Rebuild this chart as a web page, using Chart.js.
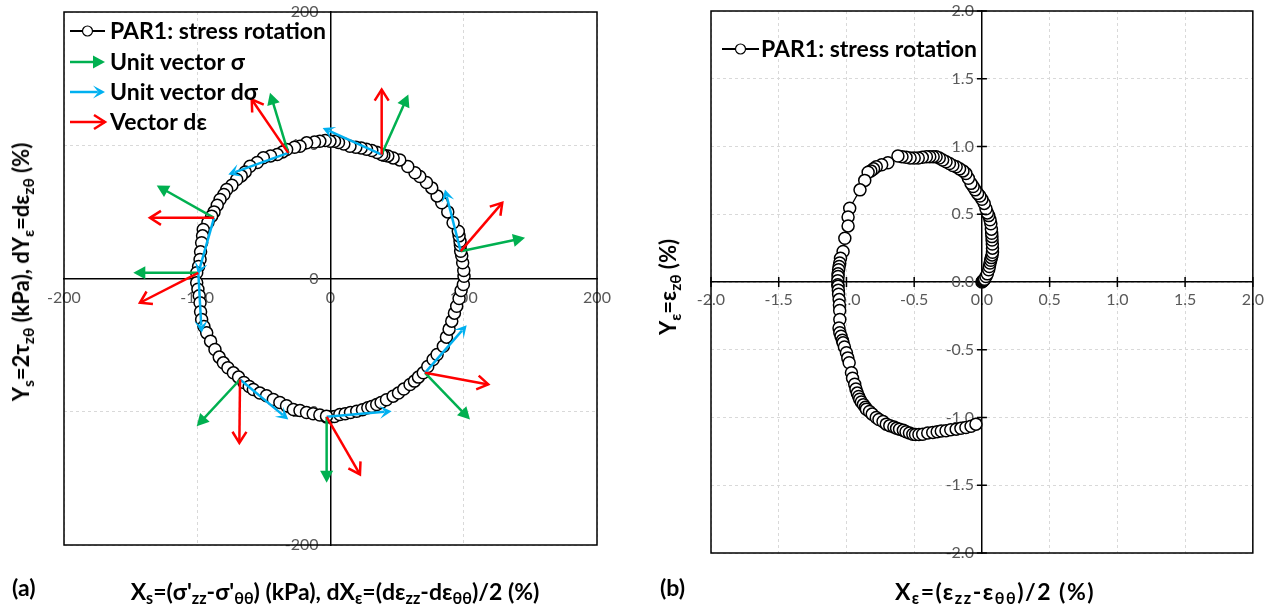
<!DOCTYPE html>
<html>
<head>
<meta charset="utf-8">
<script src="https://cdn.jsdelivr.net/npm/chart.js@4.4.1/dist/chart.umd.min.js"></script>
<style>
  body { margin: 0; background: #fff; width: 1272px; height: 611px; position: relative; overflow: hidden; font-family: Lato, "Noto Sans", sans-serif; }
  canvas { position: absolute; top: 0; }
  .title { position: absolute; font-weight: bold; font-size: 23px; color: #000; white-space: nowrap; line-height: 1; }
  .title sub { font-size: 0.7em; vertical-align: -0.3em; line-height: 0; }
  .rot { transform: translate(-50%, -50%) rotate(-90deg); font-size: 22px; }
  .hcenter { transform: translate(-50%, -50%); }
</style>
</head>
<body>
<canvas id="chartA" width="640" height="611" style="left:0"></canvas>
<canvas id="chartB" width="632" height="611" style="left:640px"></canvas>

<div class="title" style="left:12px; top:576px">(a)</div>
<div class="title hcenter" style="left:335px; top:591px">X<sub>s</sub>=(σ'<sub>zz</sub>-σ'<sub>θθ</sub>) (kPa), dX<sub>ε</sub>=(dε<sub>zz</sub>-dε<sub>θθ</sub>)/2 (%)</div>
<div class="title rot" style="left:21px; top:272px">Y<sub>s</sub>=2τ<sub>zθ</sub> (kPa), dY<sub>ε</sub>=dε<sub>zθ</sub> (%)</div>

<div class="title" style="left:660px; top:576px">(b)</div>
<div class="title hcenter" style="left:995px; top:591px; letter-spacing:1.5px">X<sub>ε</sub>=(ε<sub>zz</sub>-ε<sub>θθ</sub>)/2 (%)</div>
<div class="title rot" style="left:668px; top:287px">Y<sub>ε</sub>=ε<sub>zθ</sub> (%)</div>

<script>
// ---- panel (a): stress path, kPa ----
const stressX = [-3, 0, 3, 7, 11, 15, 19.7, 24, 28, 31, 34.7, 38, 42, 47, 51, 55, 59.7, 63, 66, 69.6,
  73, 77, 80, 84.7, 87, 89, 91, 93, 94.7, 96.5, 98, 99.7, 100.2, 100, 99.2, 98.5, 97.7, 97.5, 97.2, 96.5,
  95.9, 92, 88, 83.5, 80, 76, 72, 67, 63.4, 58, 52, 47, 43, 40, 38.4, 35, 31, 27, 23, 19,
  14.6, 10, 6, 3, -0.4, -4, -8, -12, -17.9, -22.9, -27, -32.9, -36, -40, -45, -50.4, -55, -60.4, -64, -67,
  -70.4, -74, -77.9, -80, -82.9, -85, -87.4, -89.2, -92, -95.5, -96, -96.7, -97.5, -97.9, -99, -100.4, -100.4, -99.5, -98.5, -97.9,
  -97.5, -96.7, -95, -92.9, -90, -86.7, -83.5, -80.4, -77, -72.9, -69, -65, -61, -57.9, -53, -48, -42.9, -38, -33, -27.9,
  -22.9, -18, -13, -8, -3];
const stressY = [-104, -104, -103.5, -102, -101.5, -100.5, -99.6, -98.5, -97, -96, -94.6, -93, -91, -88.3, -86, -83, -79.5, -77, -74, -70.8,
  -66, -60.8, -57, -50.8, -44, -38, -32, -26, -20.8, -15, -9, -4.5, 1.7, 6, 11.8, 17, 20.5, 25, 28, 32,
  35.5, 41.8, 50, 56.8, 62, 68, 72, 76.5, 79.3, 84, 89, 90.5, 92, 92.5, 93, 94.5, 96, 97, 98, 98.5,
  99.3, 101, 102, 103, 103, 103.5, 103, 102.5, 101.8, 99.3, 98.5, 96.8, 95, 93, 92, 90.6, 87, 84.3, 80, 77,
  74.3, 70, 66.8, 63, 59.3, 55, 50, 46.8, 42, 36.8, 32, 26.8, 20, 14.3, 9, 4.3, -3.2, -8, -13, -18.2,
  -25, -30.8, -36, -40.8, -47, -53.3, -59, -63.3, -67, -70.8, -74, -78, -81, -83.3, -86, -88, -90.8, -93, -95.5, -98.3,
  -99, -100.5, -101.5, -102.5, -103.3];

// arrow bases (on the stress path) and tips, kPa
const arrowBaseX = [38.4, 97.7, 70.9, -2.9, -67.9, -99.2, -87.4, -31.7];
const arrowBaseY = [93, 20.5, -70.8, -103.8, -75.8, 4.3, 45.5, 94.3];
const sigmaTipX = [58.4, 146, 104.7, -2.9, -100.4, -148, -130.4, -45.4];
const sigmaTipY = [138, 30.5, -105.8, -153.3, -110.8, 4.3, 69.8, 139.4];
const dSigmaTipX = [-5.9, 85.9, 102.2, 45.9, -31.7, -96.7, -99.5, -76.7];
const dSigmaTipY = [113, 66.8, -35, -99.6, -105.8, -40.8, 3, 78];
const dEpsTipX = [38.4, 128.9, 118.4, 22.1, -68.4, -143, -135.5, -59.1];
const dEpsTipY = [141.8, 56.8, -79.5, -147, -123.3, -18.2, 45.5, 134.3];

const ticksA = [-200, -100, 0, 100, 200];

// ---- panel (b): strain path, % ----
const strainX = [0, 0.005, 0.01, 0.015, 0.02, 0.03, 0.04, 0.05, 0.055, 0.06, 0.065, 0.07, 0.075, 0.078, 0.078, 0.077, 0.075, 0.074, 0.072, 0.07,
  0.066, 0.06, 0.05, 0.04, 0.03, 0.017, 0, -0.015, -0.032, -0.05, -0.065, -0.081, -0.1, -0.118, -0.14, -0.165, -0.19, -0.215, -0.24, -0.265,
  -0.29, -0.315, -0.338, -0.36, -0.385, -0.41, -0.44, -0.47, -0.5, -0.53, -0.56, -0.59, -0.62, -0.694, -0.74, -0.78, -0.8, -0.82, -0.84, -0.865,
  -0.9, -0.976, -0.988, -0.988, -1.012, -1.025, -1.044, -1.05, -1.054, -1.058, -1.062, -1.062, -1.064, -1.064, -1.062, -1.06, -1.058, -1.054, -1.052, -1.05,
  -1.049, -1.055, -1.049, -1.04, -1.03, -1.025, -1.015, -1, -0.99, -0.98, -0.963, -0.955, -0.939, -0.93, -0.92, -0.91, -0.902, -0.89, -0.875, -0.86,
  -0.853, -0.83, -0.81, -0.78, -0.76, -0.73, -0.706, -0.68, -0.65, -0.63, -0.608, -0.58, -0.56, -0.535, -0.51, -0.49, -0.465, -0.437, -0.4, -0.363,
  -0.33, -0.3, -0.265, -0.23, -0.19, -0.155, -0.118, -0.08, -0.044];
const strainY = [0, 0.005, 0.01, 0.015, 0.02, 0.04, 0.06, 0.09, 0.115, 0.14, 0.16, 0.18, 0.2, 0.22, 0.25, 0.28, 0.31, 0.335, 0.36, 0.39,
  0.43, 0.46, 0.49, 0.51, 0.54, 0.58, 0.61, 0.635, 0.654, 0.68, 0.705, 0.728, 0.765, 0.8, 0.82, 0.835, 0.85, 0.86, 0.875, 0.887,
  0.9, 0.915, 0.924, 0.925, 0.925, 0.924, 0.92, 0.915, 0.915, 0.915, 0.92, 0.925, 0.93, 0.88, 0.865, 0.85, 0.835, 0.82, 0.81, 0.75,
  0.68, 0.544, 0.48, 0.414, 0.323, 0.225, 0.176, 0.14, 0.115, 0.09, 0.06, 0.041, 0.01, -0.02, -0.032, -0.06, -0.09, -0.13, -0.17, -0.21,
  -0.277, -0.34, -0.375, -0.4, -0.43, -0.449, -0.48, -0.522, -0.56, -0.596, -0.669, -0.71, -0.755, -0.79, -0.82, -0.845, -0.865, -0.885, -0.905, -0.925,
  -0.939, -0.955, -0.975, -1, -1.015, -1.03, -1.049, -1.06, -1.07, -1.08, -1.086, -1.095, -1.105, -1.115, -1.123, -1.125, -1.125, -1.123, -1.115, -1.11,
  -1.105, -1.1, -1.098, -1.09, -1.086, -1.08, -1.074, -1.065, -1.049];

const ticksB = [-2, -1.5, -1, -0.5, 0, 0.5, 1, 1.5, 2];

const GREEN = '#00b050', BLUE = '#00b0f0', RED = '#ff0000';
const tickFont = { family: 'Lato', size: 16 };
const legendFont = 'bold 23px Lato';

function toPoints(xs, ys) {
  return xs.map((x, i) => ({ x: x, y: ys[i] }));
}

// arrow with head style: 'tri' filled triangle, 'stealth' notched, 'open' V
function drawArrow(ctx, x0, y0, x1, y1, color, head) {
  const ang = Math.atan2(y1 - y0, x1 - x0);
  const ux = Math.cos(ang), uy = Math.sin(ang);
  const px = -uy, py = ux;
  const L = head === 'open' ? 11 : 12, W = head === 'open' ? 7 : 6.5;
  ctx.save();
  ctx.strokeStyle = color;
  ctx.fillStyle = color;
  ctx.lineWidth = 2.5;
  ctx.lineJoin = 'miter';
  const shaftEnd = head === 'open' ? 0 : L * 0.6;
  ctx.beginPath();
  ctx.moveTo(x0, y0);
  ctx.lineTo(x1 - ux * shaftEnd, y1 - uy * shaftEnd);
  ctx.stroke();
  const bx = x1 - ux * L, by = y1 - uy * L;
  ctx.beginPath();
  if (head === 'open') {
    ctx.moveTo(bx + px * W, by + py * W);
    ctx.lineTo(x1, y1);
    ctx.lineTo(bx - px * W, by - py * W);
    ctx.stroke();
  } else {
    ctx.moveTo(x1, y1);
    ctx.lineTo(bx + px * W, by + py * W);
    if (head === 'stealth') ctx.lineTo(x1 - ux * L * 0.55, y1 - uy * L * 0.55);
    ctx.lineTo(bx - px * W, by - py * W);
    ctx.closePath();
    ctx.fill();
  }
  ctx.restore();
}

function drawMarkerSymbol(ctx, x0, x1, y) {
  ctx.save();
  ctx.strokeStyle = '#000';
  ctx.lineWidth = 2;
  ctx.beginPath();
  ctx.moveTo(x0, y);
  ctx.lineTo(x1, y);
  ctx.stroke();
  ctx.beginPath();
  ctx.arc((x0 + x1) / 2, y, 5, 0, Math.PI * 2);
  ctx.fillStyle = '#fff';
  ctx.fill();
  ctx.lineWidth = 1.2;
  ctx.stroke();
  ctx.restore();
}

const framePlugin = {
  id: 'frame',
  afterDraw(chart) {
    const a = chart.chartArea, ctx = chart.ctx;
    ctx.save();
    ctx.strokeStyle = '#000';
    ctx.lineWidth = 1.5;
    ctx.strokeRect(a.left, a.top, a.right - a.left, a.bottom - a.top);
    ctx.restore();
  }
};

const arrowPlugin = {
  id: 'arrows',
  afterDatasetsDraw(chart) {
    const ctx = chart.ctx, sx = chart.scales.x, sy = chart.scales.y;
    const sets = [
      [sigmaTipX, sigmaTipY, GREEN, 'tri'],
      [dSigmaTipX, dSigmaTipY, BLUE, 'stealth'],
      [dEpsTipX, dEpsTipY, RED, 'open']
    ];
    sets.forEach(([tx, ty, color, head]) => {
      arrowBaseX.forEach((bx, i) => {
        drawArrow(ctx,
          sx.getPixelForValue(bx), sy.getPixelForValue(arrowBaseY[i]),
          sx.getPixelForValue(tx[i]), sy.getPixelForValue(ty[i]), color, head);
      });
    });
  }
};

const legendPluginA = {
  id: 'legendA',
  afterDraw(chart) {
    const ctx = chart.ctx, a = chart.chartArea;
    const x0 = a.left + 6, x1 = a.left + 41, tx = a.left + 46;
    const rows = [a.top + 19, a.top + 50, a.top + 80, a.top + 110];
    drawMarkerSymbol(ctx, x0, x1, rows[0]);
    drawArrow(ctx, x0, rows[1], x1, rows[1], GREEN, 'tri');
    drawArrow(ctx, x0, rows[2], x1, rows[2], BLUE, 'stealth');
    drawArrow(ctx, x0, rows[3], x1, rows[3], RED, 'open');
    ctx.save();
    ctx.font = legendFont;
    ctx.fillStyle = '#000';
    ctx.textBaseline = 'middle';
    ['PAR1: stress rotation', 'Unit vector σ', 'Unit vector dσ', 'Vector dε'].forEach((t, i) => {
      ctx.fillText(t, tx, rows[i] + 1);
    });
    ctx.restore();
  }
};

const legendPluginB = {
  id: 'legendB',
  afterDraw(chart) {
    const ctx = chart.ctx, a = chart.chartArea;
    const y = a.top + 38;
    drawMarkerSymbol(ctx, a.left + 11, a.left + 48, y);
    ctx.save();
    ctx.font = legendFont;
    ctx.fillStyle = '#000';
    ctx.textBaseline = 'middle';
    ctx.fillText('PAR1: stress rotation', a.left + 50, y + 1);
    ctx.restore();
  }
};

// short tick marks crossing the axes of panel (b)
const crossTickPlugin = {
  id: 'crossTicks',
  afterDraw(chart) {
    const ctx = chart.ctx, sx = chart.scales.x, sy = chart.scales.y;
    const x0 = sx.getPixelForValue(0), y0 = sy.getPixelForValue(0);
    ctx.save();
    ctx.strokeStyle = '#000';
    ctx.lineWidth = 1.5;
    ctx.beginPath();
    ticksB.forEach(v => {
      if (v === 0) return;
      const px = sx.getPixelForValue(v), py = sy.getPixelForValue(v);
      ctx.moveTo(px, y0 - 5); ctx.lineTo(px, y0 + 5);
      ctx.moveTo(x0 - 5, py); ctx.lineTo(x0 + 5, py);
    });
    ctx.stroke();
    ctx.restore();
  }
};

function axisOpts(min, max, ticks, cross, fmt, pad) {
  return {
    type: 'linear', min: min, max: max, position: cross,
    afterBuildTicks: s => { s.ticks = ticks.map(v => ({ value: v })); },
    grid: { color: '#d9d9d9', lineWidth: 1, drawTicks: false },
    border: { color: '#000', width: 1.5, dash: [3, 3] },
    ticks: { autoSkip: false, maxRotation: 0, padding: pad, color: '#595959', font: tickFont, callback: fmt }
  };
}

const pointStyle = {
  showLine: true, borderColor: '#000', borderWidth: 1.25,
  pointRadius: 6, pointHoverRadius: 6, pointBackgroundColor: '#fff', pointBorderColor: '#000', pointBorderWidth: 1.5
};

// y labels sit left of the centred axis; trailing spaces give the gap
new Chart(document.getElementById('chartA'), {
  type: 'scatter',
  data: { datasets: [Object.assign({ label: 'PAR1: stress rotation', data: toPoints(stressX, stressY) }, pointStyle)] },
  options: {
    responsive: false, animation: false,
    layout: { padding: { left: 64, top: 12, right: 43, bottom: 66 } },
    plugins: { legend: { display: false }, tooltip: { enabled: false } },
    scales: {
      x: axisOpts(-200, 200, ticksA, { y: 0 }, v => String(v), 10),
      y: axisOpts(-200, 200, ticksA, { x: 0 }, v => String(v) + '\u2003', 0)
    }
  },
  plugins: [arrowPlugin, framePlugin, legendPluginA]
});

new Chart(document.getElementById('chartB'), {
  type: 'scatter',
  data: { datasets: [Object.assign({ label: 'PAR1: stress rotation', data: toPoints(strainX, strainY) }, pointStyle)] },
  options: {
    responsive: false, animation: false,
    layout: { padding: { left: 71, top: 11, right: 17, bottom: 58 } },
    plugins: { legend: { display: false }, tooltip: { enabled: false } },
    scales: {
      x: axisOpts(-2, 2, ticksB, { y: 0 }, v => v.toFixed(1), 8),
      y: axisOpts(-2, 2, ticksB, { x: 0 }, v => v.toFixed(1) + '\u2002', 0)
    }
  },
  plugins: [crossTickPlugin, framePlugin, legendPluginB]
});
</script>
</body>
</html>
